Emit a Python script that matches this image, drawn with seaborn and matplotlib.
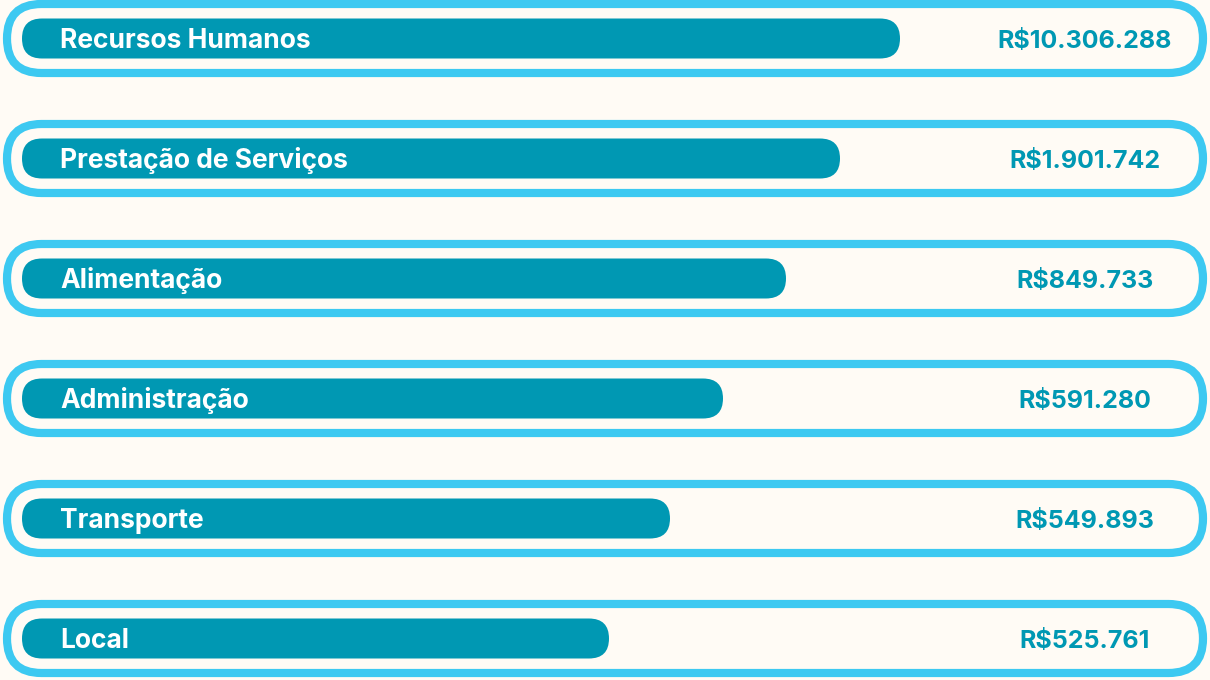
import matplotlib
matplotlib.use("Agg")
import matplotlib.pyplot as plt
import seaborn as sns
from matplotlib.patches import FancyBboxPatch

# data
categories = ["Recursos Humanos", "Prestação de Serviços", "Alimentação",
              "Administração", "Transporte", "Local"]
values = [10306288, 1901742, 849733, 591280, 549893, 525761]
# bar lengths as drawn (decorative, not proportional to the values)
bar_length = [878, 818, 764, 701, 648, 587]

BG = "#FFFBF5"
BAR = "#0098B3"
RING = "#3DC9F1"


def fmt_brl(v):
    return "R$" + f"{v:,}".replace(",", ".")


sns.set_theme(style="white")
plt.rcParams["font.family"] = ["Inter", "DejaVu Sans"]

fig = plt.figure(figsize=(12.1, 6.8), dpi=100, facecolor=BG)
ax = fig.add_axes([0, 0, 1, 1])
ax.set_facecolor(BG)

sns.barplot(x=bar_length, y=categories, orient="h", color=BAR,
            width=40 / 120, saturation=1, ax=ax)

# one data unit in x = 1 px, one category step in y = 120 px
ax.set_xlim(-22, 1188)
ax.set_ylim((680 - 38.5) / 120, -38.5 / 120)
aspect = 1 / 120
base = 9.2 / 120  # baseline offset below the row centre

# swap the plain bars for rounded pills
for p in list(ax.patches):
    x0, y0 = p.get_x(), p.get_y()
    w, h = p.get_width(), p.get_height()
    p.remove()
    ax.add_patch(FancyBboxPatch((x0, y0), w, h,
                                boxstyle="round,pad=0,rounding_size=20",
                                mutation_aspect=aspect,
                                facecolor=BAR, edgecolor="none", zorder=3))

for i, (cat, val) in enumerate(zip(categories, values)):
    # outer ring
    ax.add_patch(FancyBboxPatch((-15, i - 34.5 / 120), 1196, 69 / 120,
                                boxstyle="round,pad=0,rounding_size=34.5",
                                mutation_aspect=aspect,
                                facecolor="none", edgecolor=RING,
                                linewidth=5.9, zorder=2))
    ax.text(38, i + base, cat, color="white", fontsize=19, fontweight="bold",
            va="baseline", ha="left", zorder=4)
    ax.text(1063, i + base, fmt_brl(val), color=BAR, fontsize=18,
            fontweight="bold", va="baseline", ha="center", zorder=4)

ax.set_axis_off()
fig.savefig("out.png", dpi=100, facecolor=BG)
